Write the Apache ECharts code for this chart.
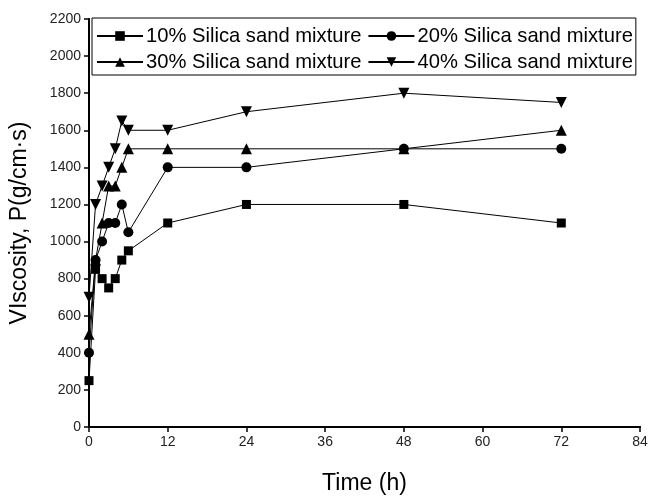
<!DOCTYPE html>
<html>
<head>
<meta charset="utf-8">
<script src="https://cdn.jsdelivr.net/npm/echarts@6/dist/echarts.min.js"></script>
<style>html,body{margin:0;padding:0;background:#fff}#c{width:660px;height:499px}</style>
</head>
<body>
<div id="c"></div>
<script>
var timeH = [0, 1, 2, 3, 4, 5, 6, 12, 24, 48, 72];
var silica10 = [250, 850, 800, 750, 800, 900, 950, 1100, 1200, 1200, 1100];
var silica20 = [400, 900, 1000, 1100, 1100, 1200, 1050, 1400, 1400, 1500, 1500];
var silica30 = [500, 900, 1100, 1300, 1300, 1400, 1500, 1500, 1500, 1500, 1600];
var silica40 = [700, 1200, 1300, 1400, 1500, 1650, 1600, 1600, 1700, 1800, 1750];
var names = ['10% Silica sand mixture', '20% Silica sand mixture', '30% Silica sand mixture', '40% Silica sand mixture'];
var xTicks = [0, 12, 24, 36, 48, 60, 72, 84];
var yTicks = [0, 200, 400, 600, 800, 1000, 1200, 1400, 1600, 1800, 2000, 2200];

function pairs(vals) { return timeH.map(function (t, i) { return [t, vals[i]]; }); }
var font = 'Liberation Sans, Arial, sans-serif';
function mk(name, vals, sym, size, rot) {
  return {
    name: name, type: 'line', data: pairs(vals), symbol: sym, symbolSize: size, symbolRotate: rot || 0,
    showAllSymbol: true,
    lineStyle: { color: '#000', width: 1 }, itemStyle: { color: '#000' }, z: 3
  };
}
var chart = echarts.init(document.getElementById('c'), null, { renderer: 'canvas' });
chart.setOption({
  animation: false,
  backgroundColor: '#fff',
  grid: { left: 89, right: 20, top: 19, bottom: 72, containLabel: false, outerBoundsMode: 'none' },
  legend: {
    left: 92, top: 18, width: 560,
    padding: [8, 3, 3, 4], itemGap: 6,
    itemWidth: 46, itemHeight: 12,
    borderColor: '#000', borderWidth: 1,
    backgroundColor: '#fff',
    textStyle: { fontFamily: font, fontSize: 20.2, color: '#000', lineHeight: 18, padding: [0, 0, 0, -2] },
    data: names
  },
  xAxis: [{
    type: 'value', min: xTicks[0], max: xTicks[xTicks.length - 1], interval: 12,
    name: 'Time (h)', nameLocation: 'middle', nameGap: 45,
    nameTextStyle: { fontFamily: font, fontSize: 23, color: '#000' },
    axisLine: { show: true, onZero: false, lineStyle: { color: '#000', width: 2 } },
    axisTick: { show: true, length: 5, lineStyle: { color: '#000', width: 1.5 } },
    axisLabel: { fontFamily: font, fontSize: 14, color: '#222', margin: 8 },
    splitLine: { show: false }
  }, {
    type: 'value', position: 'top', min: 0, max: 84, interval: 12,
    axisLine: { show: true, lineStyle: { color: '#000', width: 2 } },
    axisTick: { show: false }, axisLabel: { show: false }, splitLine: { show: false }
  }],
  yAxis: [{
    type: 'value', min: yTicks[0], max: yTicks[yTicks.length - 1], interval: 200,
    name: 'VIscosity, P(g/cm·s)', nameLocation: 'middle', nameGap: 58,
    nameTextStyle: { fontFamily: font, fontSize: 23, color: '#000' },
    axisLine: { show: true, onZero: false, lineStyle: { color: '#000', width: 2 } },
    axisTick: { show: true, length: 5, lineStyle: { color: '#000', width: 1.5 } },
    axisLabel: { fontFamily: font, fontSize: 14, color: '#222', margin: 8, formatter: function (v) { return String(v); } },
    splitLine: { show: false }
  }, {
    type: 'value', position: 'right', min: 0, max: 2200, interval: 200,
    axisLine: { show: true, lineStyle: { color: '#000', width: 2 } },
    axisTick: { show: false }, axisLabel: { show: false }, splitLine: { show: false }
  }],
  series: [
    mk(names[0], silica10, 'rect', 9),
    mk(names[1], silica20, 'circle', 10),
    mk(names[2], silica30, 'triangle', 11),
    mk(names[3], silica40, 'triangle', 11, 180)
  ]
});
</script>
</body>
</html>
